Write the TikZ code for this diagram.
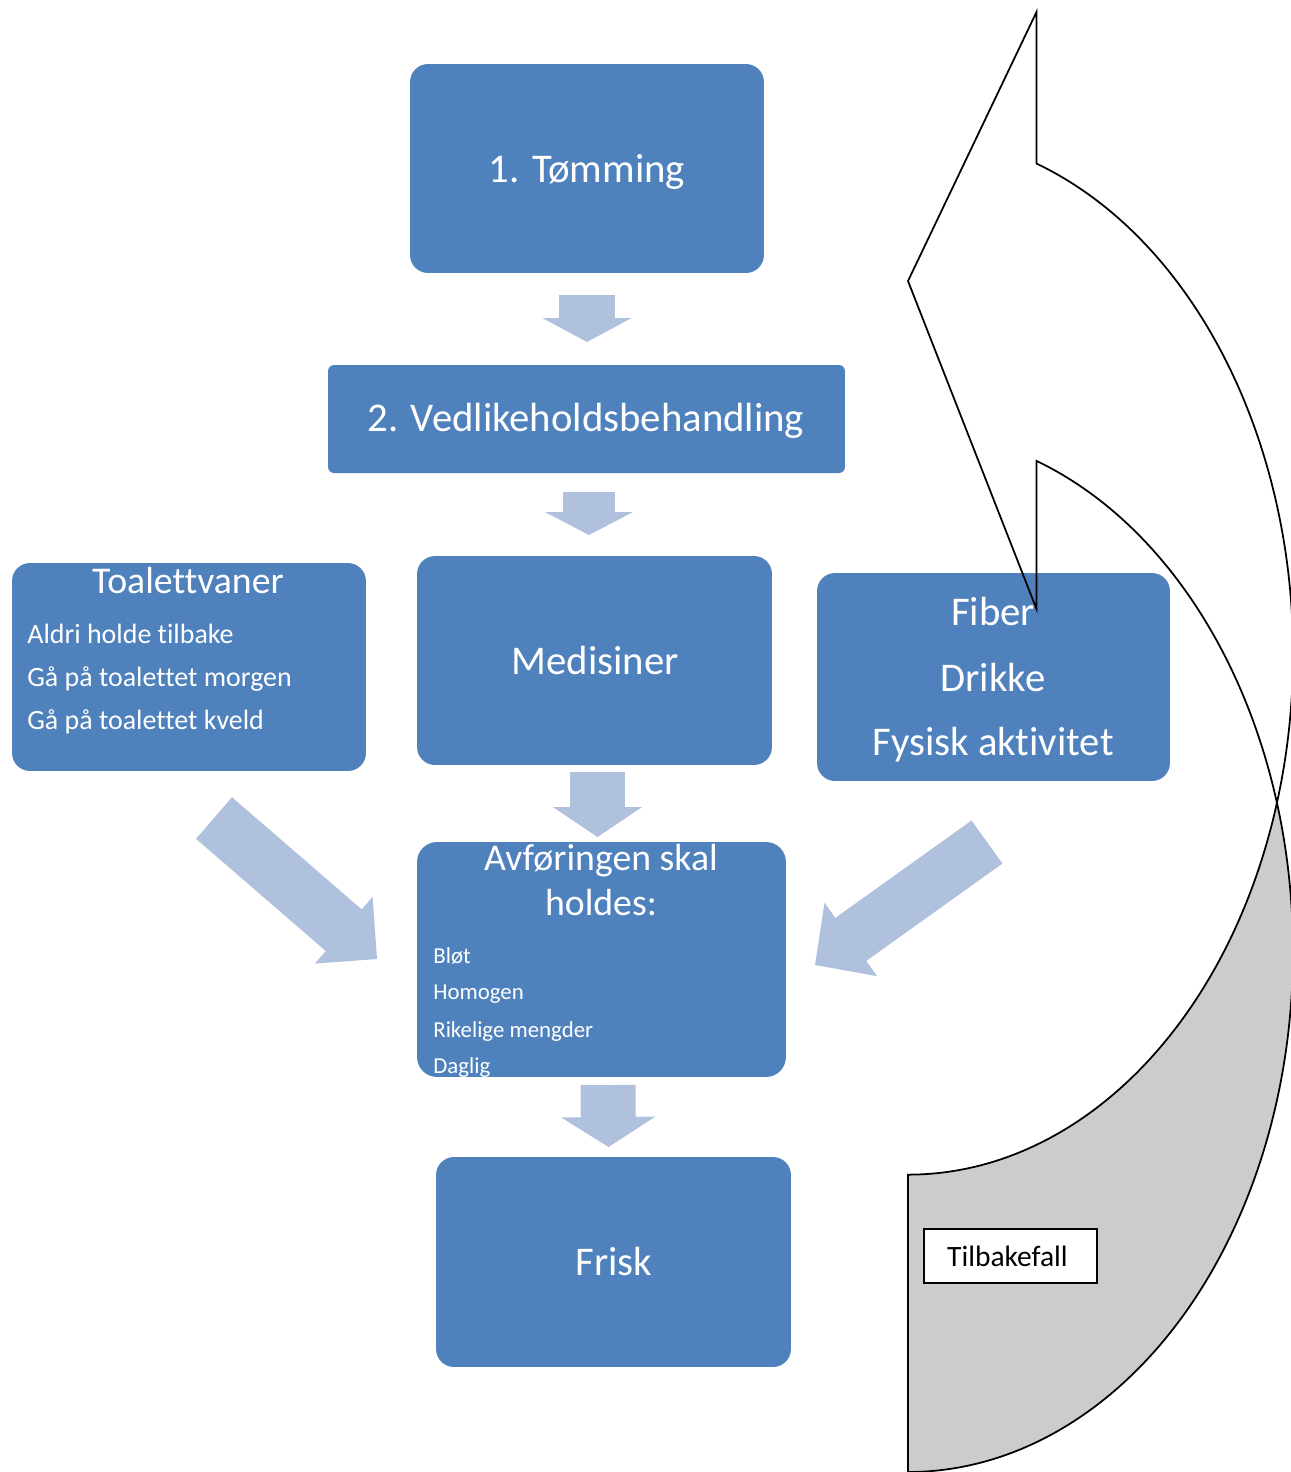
\documentclass[tikz,border=0pt]{standalone}
\usepackage{fontspec}
\setmainfont{Carlito}[Ligatures=CommonOff]
\usetikzlibrary{arrows.meta}
\definecolor{boksbla}{RGB}{79,129,189}
\definecolor{pilbla}{RGB}{176,193,221}
\definecolor{tilbakegra}{RGB}{204,204,204}
\begin{document}
\begin{tikzpicture}[x=0.02cm, y=-0.02cm]
\tikzset{boks/.style={fill=boksbla, rounded corners=0.36cm, inner sep=0pt},
  stor/.style={text=white, anchor=base, inner sep=0pt, font=\fontsize{23.2}{28}\selectfont},
  mellom/.style={text=white, anchor=base, inner sep=0pt, font=\fontsize{21.5}{26}\selectfont},
  liten/.style={text=white, anchor=base west, inner sep=0pt, font=\fontsize{15.9}{19}\selectfont},
  minst/.style={text=white, anchor=base west, inner sep=0pt, font=\fontsize{13}{16}\selectfont},
  pil/.style n args={3}{draw=pilbla, line width=#1, -{Triangle[line width=0.8pt, length=#2, width=#3]}}}
\clip (0,0) rectangle (1291,1472);
\draw[line width=1pt, fill=tilbakegra] (908,1175) -- (908,1472)
  arc[start angle=90, end angle=-16.6, x radius=385, y radius=520.5]
  arc[start angle=16.6, end angle=90, x radius=385, y radius=520.5] -- cycle;
\node[draw, line width=1pt, fill=white, minimum width=3.46cm, minimum height=1.08cm,
  font=\fontsize{16.8}{20}\selectfont] (tilb) at (1010.5,1256) {Tilbakefall\hspace*{0.12cm}};
\node[boks, minimum width=7.08cm, minimum height=4.18cm] (tom) at (587,168.5) {};
\node[stor] (tomtekst) at (587,182) {1. Tømming};
\node[boks, rounded corners=0.12cm, minimum width=10.34cm, minimum height=2.16cm] (ved) at (586.5,419) {};
\node[stor] (vedtekst) at (586,431) {2. Vedlikeholdsbehandling};
\node[boks, minimum width=7.08cm, minimum height=4.16cm] (toal) at (189,667) {};
\node[mellom] (toaltittel) at (188,593) {Toalettvaner};
\node[liten] (toal1) at (27,643) {Aldri holde tilbake};
\node[liten] (toal2) at (27,686) {Gå på toalettet morgen};
\node[liten] (toal3) at (27,729) {Gå på toalettet kveld};
\node[boks, minimum width=7.1cm, minimum height=4.18cm] (med) at (594.5,660.5) {};
\node[stor] (medtekst) at (595,674) {Medisiner};
\node[boks, minimum width=7.06cm, minimum height=4.16cm] (fib) at (993.5,677) {};
\node[stor] (fib1) at (993,625) {Fiber};
\node[stor] (fib2) at (993,691) {Drikke};
\node[stor] (fib3) at (993,755) {Fysisk aktivitet};
\node[boks, rounded corners=0.4cm, minimum width=7.38cm, minimum height=4.7cm] (avf) at (601.5,959.5) {};
\node[mellom] (avftittel1) at (601,870) {Avføringen skal};
\node[mellom] (avftittel2) at (601,915) {holdes:};
\node[minst] (avf1) at (433,963) {Bløt};
\node[minst] (avf2) at (433,999) {Homogen};
\node[minst] (avf3) at (433,1037) {Rikelige mengder};
\node[minst] (avf4) at (433,1073) {Daglig};
\node[boks, minimum width=7.1cm, minimum height=4.2cm] (fri) at (613.5,1262) {};
\node[stor] (fritekst) at (614,1275) {Frisk};
\coordinate (p1a) at (587,295);
\coordinate (p1b) at (587,342);
\coordinate (p2a) at (589,492);
\coordinate (p2b) at (589,535);
\coordinate (p3a) at (597.5,772);
\coordinate (p3b) at (597.5,837);
\coordinate (p4a) at (608,1085);
\coordinate (p4b) at (608.5,1147);
\coordinate (p5a) at (214,818);
\coordinate (p5b) at (377,959);
\coordinate (p6a) at (987,842);
\coordinate (p6b) at (815,965);
\draw[pil={1.12cm}{0.48cm}{1.78cm}] (p1a) -- (p1b);
\draw[pil={1.06cm}{0.46cm}{1.76cm}] (p2a) -- (p2b);
\draw[pil={1.1cm}{0.6cm}{1.78cm}] (p3a) -- (p3b);
\draw[pil={1.1cm}{0.6cm}{1.88cm}] (p4a) -- (p4b);
\draw[pil={1.1cm}{0.88cm}{1.76cm}] (p5a) -- (p5b);
\draw[pil={1.06cm}{0.88cm}{1.8cm}] (p6a) -- (p6b);
\draw[line width=1pt] (1036.5,163.9) -- (1036.5,12) -- (908,281) -- (1036.5,609) -- (1036.5,460.9)
  arc[start angle=-70.5, end angle=-16.6, x radius=385, y radius=520.5]
  arc[start angle=16.6, end angle=-70.5, x radius=385, y radius=520.5] -- cycle;
\end{tikzpicture}
\end{document}
